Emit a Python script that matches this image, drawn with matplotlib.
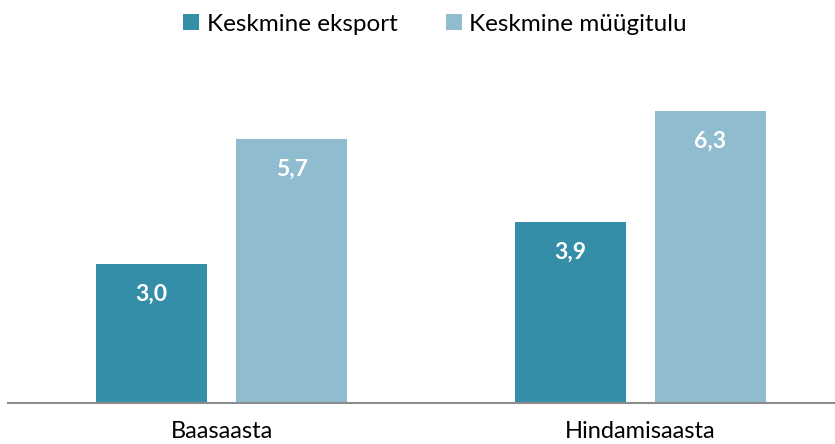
import matplotlib.pyplot as plt
import numpy as np

categories = ["Baasaasta", "Hindamisaasta"]
eksport = [3.0, 3.9]
myygitulu = [5.7, 6.3]
series_names = ["Keskmine eksport", "Keskmine müügitulu"]
colors = ["#348EA7", "#8FBCCF"]

plt.rcParams['font.family'] = ['Lato', 'DejaVu Sans']

fig = plt.figure(figsize=(8.35, 4.44), dpi=100)
ax = fig.add_axes([0.0, 41 / 444, 1.0, 1 - 41 / 444 - 79 / 444])

x = np.arange(len(categories))
w = 0.265
off = 0.167
b1 = ax.bar(x - off, eksport, w, color=colors[0], label=series_names[0])
b2 = ax.bar(x + off, myygitulu, w, color=colors[1], label=series_names[1])

for bars in (b1, b2):
    for r in bars:
        v = r.get_height()
        ax.text(r.get_x() + r.get_width() / 2, v - 0.65, f"{v:.1f}".replace(".", ","),
                ha="center", va="center", color="white", fontsize=16.5, fontweight="bold")

ax.set_xlim(-0.5286, 1.464)
ax.set_ylim(0, 7)
ax.set_yticks([])
ax.set_xticks(x)
ax.set_xticklabels(categories, fontsize=17)
ax.tick_params(axis="x", length=0, pad=13)
for s in ["top", "right", "left"]:
    ax.spines[s].set_visible(False)
ax.spines["bottom"].set_color("#8c8c8c")
ax.spines["bottom"].set_linewidth(1.5)
ax.spines["bottom"].set_bounds(-0.5095, 1.464)

fig.legend(loc="center", bbox_to_anchor=(0.521, 0.945), ncol=2, frameon=False,
           fontsize=17.5, handlelength=0.65, handleheight=0.65, handletextpad=0.3,
           columnspacing=2.0)

fig.savefig("out.png", dpi=100)
